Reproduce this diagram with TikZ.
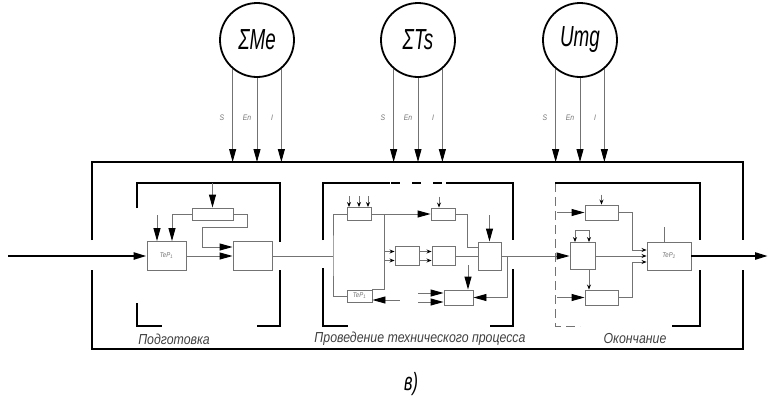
\documentclass[tikz,border=0pt]{standalone}
\usepackage{fontspec}
\newfontfamily\gostfont[FakeStretch=0.85]{Liberation Sans}
\newfontfamily\gostnarrow[FakeStretch=0.65]{Liberation Sans}
\usetikzlibrary{arrows.meta}
\definecolor{wiregray}{gray}{0.45}
\tikzset{
  frm/.style={line width=2.4pt},
  frmdash/.style={draw=wiregray, line width=0.9pt, dash pattern=on 9pt off 5pt},
  wire/.style={draw=wiregray, line width=0.9pt},
  harr/.style={wire, -{Triangle[length=13pt,width=7pt,black]}},
  sarr/.style={wire, -{Stealth[length=5pt,width=4pt,black]}},
  thickarr/.style={line width=2.4pt, -{Triangle[length=13pt,width=7pt]}},
  blk/.style={draw=wiregray, line width=0.9pt, fill=white, inner sep=0pt, text=wiregray,
    font=\gostfont\itshape\fontsize{7}{7}\selectfont},
  src/.style={draw, circle, line width=1.8pt, minimum size=74pt, inner sep=0pt,
    font=\gostnarrow\itshape\fontsize{29}{29}\selectfont},
  sig/.style={font=\gostfont\itshape\fontsize{8}{8}\selectfont, text=wiregray, inner sep=0pt},
  stage/.style={font=\gostfont\itshape\fontsize{14.5}{14.5}\selectfont, text=black!75, inner sep=0pt}
}
\newcommand{\tep}[1]{TeP\textsubscript{#1}}

\begin{document}
\begin{tikzpicture}[x=1pt,y=-1pt]
\useasboundingbox (0,0) rectangle (771,400);
% sources
\node[src] (me) at (257,40) {ΣMe};
\node[src] (ts) at (418,40) {ΣTs};
\node[src] (umg) at (580,40) {Umg};
\coordinate (ftop) at (0,162);
\foreach \s in {me,ts,umg}{
  \draw[harr] (\s.-130) -- (\s.-130 |- ftop);
  \draw[harr] (\s.south) -- (\s.south |- ftop);
  \draw[harr] (\s.-50) -- (\s.-50 |- ftop);
  \node[sig] (\s-s) at ([shift={(-35,78)}]\s.center) {S};
  \node[sig] (\s-en) at ([shift={(-10,78)}]\s.center) {En};
  \node[sig] (\s-i) at ([shift={(15,78)}]\s.center) {I};
}
% frames
\draw[frm] (92,240) |- (743,162) -- (743,240);
\draw[frm] (92,270) |- (743,349) -- (743,270);
\draw[frm] (137,208) |- (280,183) -- (280,242);
\draw[frm] (137,303) |- (162,326);
\draw[frm] (257,326) -| (280,270);
\draw[frm] (323,240) |- (390,183);
\draw[line width=1.2pt, dash pattern=on 9pt off 12pt] (391,183) -- (445,183);
\draw[frm] (446,183) -| (513,240);
\draw[frm] (323,268) |- (348,326);
\draw[frm] (490,326) -| (513,269);
\draw[frmdash] (555,183) -- (555,326) -- (580,326);
\draw[frm] (555,183) -| (700,240);
\draw[frm] (672,326) -| (700,270);
\node[stage] (prep) at (174,339) {Подготовка};
\node[stage] (proc) at (420,339) {Проведение технического процесса};
\node[stage] (fin) at (635,339) {Окончание};
\node[font=\gostnarrow\itshape\fontsize{25}{25}\selectfont, inner sep=0pt] (cap) at (411,384) {в)};

% preparation
\node[blk, minimum width=39pt, minimum height=29pt] (tep1) at (166.5,256) {\tep{1}};
\node[blk, minimum width=41pt, minimum height=12pt] (reg1) at (212.5,214) {};
\node[blk, minimum width=39pt, minimum height=29pt] (out1) at (252.5,256) {};
\coordinate (in) at (8,256);
\coordinate (t1a) at (157,215);
\coordinate (f1) at (212.5,183);
\draw[thickarr] (in) -- (tep1.west);
\draw[harr] (tep1.east) -- (out1.west);
\draw[harr] (reg1.east) -- ++(14,0) |- (202,227) |- ([yshift=9pt]out1.west);
\draw[harr] (reg1.west) -| ([xshift=5.5pt]tep1.north);
\draw[harr] (t1a) -- (t1a |- tep1.north);
\draw[harr] (f1) -- (reg1.north);

% process
\node[blk, minimum width=24pt, minimum height=13pt] (pa) at (359,214) {};
\node[blk, minimum width=24pt, minimum height=12pt] (pb) at (443,214) {};
\node[blk, minimum width=24pt, minimum height=19pt] (pc) at (407,256) {};
\node[blk, minimum width=23pt, minimum height=19pt] (pd) at (443.5,256) {};
\node[blk, minimum width=23pt, minimum height=28pt] (pf) at (489.5,256) {};
\node[blk, minimum width=29pt, minimum height=15pt] (pe) at (458.5,297.5) {};
\node[blk, minimum width=25pt, minimum height=12pt] (tep2) at (359.5,296) {\tep{1}};
\coordinate (split) at (333,256);
\coordinate (va) at (384,214);
\coordinate (ft) at (489.5,215);
\coordinate (et) at (468,265);
\coordinate (ea) at (418,293);
\coordinate (eb) at (418,302);
\coordinate (tb) at (400,300);
\coordinate (vb) at (507,256);
\draw[wire] (out1.east) -- (split);
\draw[wire] (pa.west) -| (split) |- (tep2.west);
\foreach \dx in {-10,0,9}
  \draw[sarr] ([shift={(\dx,-11)}]pa.north) -- ([xshift=\dx pt]pa.north);
\draw[harr] (pa.east) -- (pb.west);
\draw[sarr] ([shift={(-4,-11)}]pb.north) -- ([xshift=-4pt]pb.north);
\draw[wire] (pa.east) -- (va) |- (tep2.north east);
\draw[sarr] (va |- ea) ++(0,-41.5) -- ([yshift=4.5pt]pc.west);
\draw[sarr] (va |- ea) ++(0,-32.5) -- ([yshift=-4.5pt]pc.west);
\draw[sarr] ([yshift=4.5pt]pc.east) -- ([yshift=4.5pt]pd.west);
\draw[sarr] ([yshift=-4.5pt]pc.east) -- ([yshift=-4.5pt]pd.west);
\draw[wire] (pd.east) -- (pf.west);
\draw[wire] (pb.east) -| (467,247) -- ([yshift=9pt]pf.west);
\draw[harr] (ft) -- (pf.north);
\draw[harr] (et) -- (et |- pe.north);
\draw[harr] (ea) -- ([yshift=4.5pt]pe.west);
\draw[harr] (eb) -- ([yshift=-4.5pt]pe.west);
\draw[harr] (tb) -- ([yshift=-4pt]tep2.east);

% ending
\node[blk, minimum width=25pt, minimum height=27pt] (gg) at (582.5,256) {};
\node[blk, minimum width=33pt, minimum height=15pt] (gh) at (601.5,212.5) {};
\node[blk, minimum width=33pt, minimum height=15pt] (gj) at (601.5,297.5) {};
\node[blk, minimum width=44pt, minimum height=28pt] (tep3) at (669,256) {\tep{2}};
\coordinate (ha) at (557,212.5);
\coordinate (ja) at (557,297.5);
\coordinate (out) at (768,256);
\draw[harr] (pf.east) -- (gg.west);
\draw[harr] (vb) |- (pe.east);
\draw[harr] (ha) -- (gh.west);
\draw[harr] (ja) -- (gj.west);
\draw[sarr] ([yshift=10pt]gh.north) -- (gh.north);
\draw[wire] ([shift={(-7.5,-12)}]gg.north) -- ([shift={(6.5,-12)}]gg.north);
\draw[sarr] ([shift={(-7.5,-12)}]gg.north) -- ([xshift=-7.5pt]gg.north);
\draw[sarr] ([shift={(6.5,-12)}]gg.north) -- ([xshift=6.5pt]gg.north);
\draw[sarr] ([xshift=6.5pt]gg.south) -- ([xshift=6.5pt]gg.south |- gj.north);
\draw[sarr] (gg.east) -- (tep3.west);
\draw[sarr] (gh.east) -| (632,250) -- ([yshift=6pt]tep3.west);
\draw[sarr] (gj.east) -| (632,262) -- ([yshift=-6pt]tep3.west);
\draw[wire] ([xshift=-5pt]tep3.north) -- ++(0,-15);
\draw[thickarr] (tep3.east) -- (out);
\end{tikzpicture}
\end{document}
